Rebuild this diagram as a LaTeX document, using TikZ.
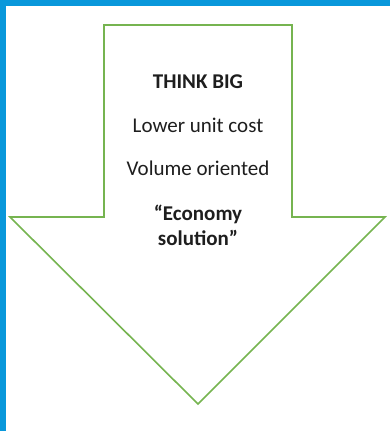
\documentclass[tikz,border=0pt]{standalone}
\usepackage{fontspec}
\setmainfont{Carlito}
\usepackage{tikz}
\usetikzlibrary{positioning}
\definecolor{framebl}{RGB}{9,152,219}
\definecolor{arrowgr}{RGB}{118,180,80}
\definecolor{inkgray}{RGB}{30,30,30}
\tikzset{txt/.style={font=\fontsize{21}{25}\selectfont, text=inkgray, anchor=base, inner sep=0pt},
         bold/.style={txt, font=\bfseries\fontsize{21}{25}\selectfont}}

\begin{document}
\begin{tikzpicture}[x=1pt, y=-1pt]
    \useasboundingbox (0,0) rectangle (390,431);
    \fill[white] (0,0) rectangle (390,431);
    \fill[framebl] (0,0) rectangle (390,6); %top band
    \fill[framebl] (0,0) rectangle (6,431); %left band
    \draw[arrowgr, line width=1.6pt, line join=miter]
        (104,25) -- (292,25) -- (292,217) -- (385,217) -- (198,404)
        -- (10,217) -- (104,217) -- cycle;
    \node[bold] (big) at (198,88) {THINK BIG};
    \node[txt] (cost) at (198,132) {Lower unit cost};
    \node[txt] (vol) at (198,175) {Volume oriented};
    \node[bold] (eco) at (198,220) {“Economy};
    \node[bold] (sol) at (198,245) {solution”};
\end{tikzpicture}
\end{document}
